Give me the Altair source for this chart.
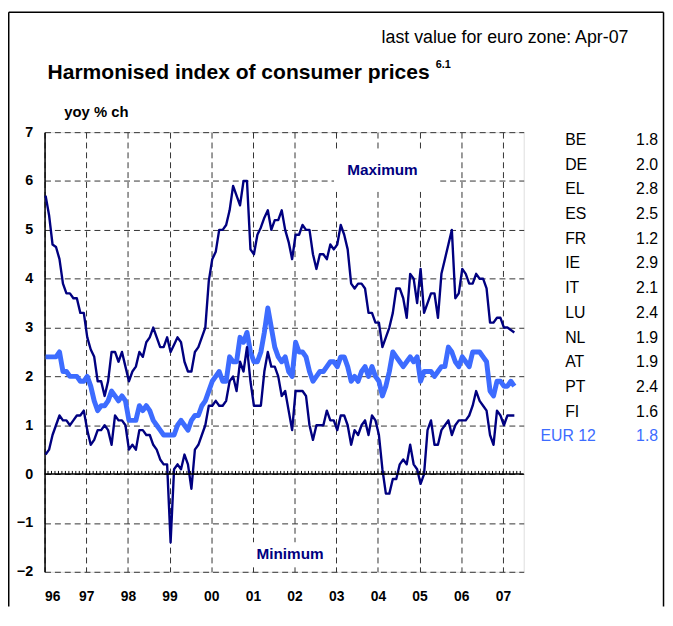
import altair as alt
import pandas as pd

FONT = "Liberation Sans"
NAVY = "#000080"
BLUE = "#3d6cff"

years = ["96", "97", "98", "99", "00", "01", "02", "03", "04", "05", "06", "07"]

maximum = [5.7, 5.3, 4.7, 4.65, 4.4, 3.9, 3.7, 3.7, 3.6, 3.6, 3.3, 3.3,
           2.8, 2.55, 2.4, 1.9, 1.9, 1.6, 1.9, 2.5, 2.5, 2.3, 2.5, 2.2,
           1.9, 2.1, 2.2, 2.5, 2.4, 2.7, 2.8, 3.0, 2.8, 2.6, 2.6, 2.8,
           2.5, 2.65, 2.8, 2.7, 2.3, 2.1, 2.1, 2.5, 2.6, 2.8, 3.0, 3.95,
           4.4, 4.55, 5.0, 5.0, 5.1, 5.4, 5.9, 5.7, 5.5, 6.0, 6.0, 4.6,
           4.5, 4.9, 5.05, 5.25, 5.4, 5.0, 5.2, 5.2, 5.4, 5.0, 4.75, 4.4,
           4.9, 4.9, 5.1, 5.0, 5.0, 4.5, 4.2, 4.5, 4.5, 4.4, 4.7, 4.6,
           4.7, 5.1, 4.9, 4.6, 3.9, 3.8, 3.9, 3.9, 3.8, 3.3, 3.3, 3.1,
           3.1, 2.6, 2.8, 3.0, 3.3, 3.8, 3.8, 3.6, 3.2, 4.1, 4.0, 3.5,
           4.2, 3.3, 3.5, 3.7, 3.7, 3.2, 4.1, 4.4, 4.7, 5.0, 3.6, 3.7,
           4.2, 4.1, 3.9, 3.9, 4.1, 4.0, 4.0, 3.8, 3.1, 3.1, 3.2, 3.2,
           3.0, 3.0, 2.95, 2.9]

minimum = [0.4, 0.5, 0.8, 1.0, 1.2, 1.1, 1.1, 1.0, 1.1, 1.2, 1.2, 1.3,
           0.9, 0.6, 0.7, 0.9, 0.9, 1.0, 0.9, 0.6, 1.2, 1.1, 1.1, 1.0,
           0.5, 0.6, 0.5, 0.9, 0.9, 0.8, 0.8, 0.6, 0.5, 0.3, 0.2, 0.2,
           -1.4, 0.1, 0.2, 0.1, 0.4, 0.2, -0.3, 0.5, 0.6, 0.8, 1.0, 1.4,
           1.4, 1.5, 1.4, 1.4, 1.5, 1.9, 2.0, 1.7, 2.3, 2.1, 2.6, 1.9,
           1.4, 1.4, 1.4, 2.1, 2.5, 2.2, 2.2, 2.0, 1.6, 1.7, 1.3, 0.9,
           1.7, 1.7, 1.7, 1.6, 1.0, 0.7, 1.0, 1.0, 1.0, 1.3, 1.1, 1.1,
           0.9, 1.2, 1.2, 1.0, 0.6, 0.9, 0.8, 1.0, 1.1, 0.8, 1.2, 1.1,
           0.8, 0.1, -0.4, -0.4, -0.1, -0.1, 0.2, 0.3, 0.2, 0.6, 0.2, 0.1,
           -0.2, 0.0, 0.9, 1.1, 0.6, 0.6, 0.9, 1.0, 1.1, 0.8, 1.0, 1.1,
           1.1, 1.1, 1.2, 1.4, 1.7, 1.5, 1.4, 1.3, 0.8, 0.6, 1.3, 1.2,
           1.0, 1.2, 1.2, 1.2]

eur12 = [2.4, 2.4, 2.4, 2.4, 2.5, 2.1, 2.1, 2.0, 2.0, 2.0, 1.9, 1.9,
         2.0, 1.8, 1.5, 1.3, 1.4, 1.4, 1.5, 1.7, 1.6, 1.5, 1.6, 1.5,
         1.1, 1.1, 1.1, 1.4, 1.3, 1.4, 1.3, 1.1, 1.0, 0.9, 0.8, 0.8,
         0.8, 0.8, 1.0, 1.1, 1.0, 0.9, 1.1, 1.2, 1.2, 1.4, 1.5, 1.7,
         1.9, 2.0, 2.1, 1.9, 1.9, 2.4, 2.3, 2.3, 2.8, 2.7, 2.9, 2.5,
         2.3, 2.3, 2.5, 2.9, 3.4, 3.0, 2.6, 2.4, 2.3, 2.4, 2.1, 2.0,
         2.7, 2.5, 2.5, 2.4, 2.1, 1.9, 2.0, 2.1, 2.1, 2.2, 2.3, 2.3,
         2.2, 2.4, 2.4, 2.2, 1.9, 2.0, 1.9, 2.1, 2.2, 2.0, 2.2, 2.0,
         1.9, 1.6, 1.8, 2.1, 2.5, 2.4, 2.3, 2.2, 2.3, 2.4, 2.3, 2.4,
         1.9, 2.1, 2.1, 2.1, 2.0, 2.1, 2.2, 2.2, 2.6, 2.5, 2.3, 2.2,
         2.4, 2.3, 2.2, 2.5, 2.5, 2.5, 2.4, 2.3, 1.7, 1.6, 1.9, 1.9,
         1.8, 1.8, 1.9, 1.8]

countries = ["BE", "DE", "EL", "ES", "FR", "IE", "IT", "LU", "NL", "AT", "PT", "FI", "EUR 12"]
last_values = ["1.8", "2.0", "2.8", "2.5", "1.2", "2.9", "2.1", "2.4", "1.9", "1.9", "2.4", "1.6", "1.8"]

# ---------------------------------------------------------------- tables
n = len(eur12)
df = pd.DataFrame({
    "t": [i + 0.3 for i in range(n)],
    "max": maximum,
    "min": minimum,
    "eur": eur12,
})
months = pd.DataFrame({"m": list(range(1, 138))})
zero = pd.DataFrame({"z": [0]})
one = pd.DataFrame({"a": [0]})
table = pd.DataFrame({"country": countries, "value": last_values})

xs = alt.Scale(domain=[0, 138], nice=False, zero=False)
ys = alt.Scale(domain=[-2, 7], nice=False, zero=False)

label_expr = "[" + ",".join("'%s'" % y for y in years) + "][round(datum.value/12)]"

x_axis = alt.Axis(values=[12 * i for i in range(len(years))], labelExpr=label_expr,
                  grid=True, gridDash=[6, 4], gridColor="#333333", gridWidth=1,
                  domain=False, ticks=False, tickSize=0, labelAngle=0,
                  labelFont=FONT, labelFontSize=14, labelFontWeight="bold",
                  labelColor="black", labelPadding=18, title=None)
y_axis = alt.Axis(values=list(range(-2, 8)), format="d",
                  grid=True, gridDash=[6, 4], gridColor="#333333", gridWidth=1,
                  domain=True, domainColor="black", domainWidth=1.5,
                  ticks=False, tickSize=0,
                  labelFont=FONT, labelFontSize=14.5, labelFontWeight="bold",
                  labelColor="black", labelPadding=12, title=None)


def X(field):
    return alt.X(field, scale=xs, axis=x_axis)


def Y(field):
    return alt.Y(field, scale=ys, axis=y_axis)


eur_line = alt.Chart(df).mark_line(color=BLUE, strokeWidth=5, strokeJoin="round").encode(
    x=X("t:Q"), y=Y("eur:Q"))
max_line = alt.Chart(df).mark_line(color=NAVY, strokeWidth=2.4, strokeJoin="round").encode(
    x=X("t:Q"), y=Y("max:Q"))
min_line = alt.Chart(df).mark_line(color=NAVY, strokeWidth=2.4, strokeJoin="round").encode(
    x=X("t:Q"), y=Y("min:Q"))

zero_line = alt.Chart(zero).mark_rule(color="black", strokeWidth=1.5).encode(y=Y("z:Q"))
month_ticks = alt.Chart(months).transform_calculate(lo="0", hi="0.065").mark_rule(
    color="black", strokeWidth=1).encode(x=X("m:Q"), y=Y("lo:Q"), y2="hi:Q")


def text(txt, x, y, size, weight="normal", color="black", align="left"):
    return alt.Chart(one).mark_text(text=txt, font=FONT, fontSize=size, fontWeight=weight,
                                    color=color, align=align, baseline="middle").encode(
        x=alt.value(x), y=alt.value(y))


def box(x1, x2, y1, y2):
    return alt.Chart(one).mark_rect(color="white").encode(
        x=alt.value(x1), x2=alt.value(x2), y=alt.value(y1), y2=alt.value(y2))


def rule(x1, x2, y1, y2):
    return alt.Chart(one).mark_rule(color="black", strokeWidth=1.5).encode(
        x=alt.value(x1), x2=alt.value(x2), y=alt.value(y1), y2=alt.value(y2))


main = alt.layer(
    eur_line, max_line, min_line, zero_line, month_ticks,
    box(293, 399, 20, 58), text("Maximum", 342, 38, 15.5, "bold", NAVY, "center"),
    box(207, 290, 415, 438), text("Minimum", 248.5, 427, 15.5, "bold", NAVY, "center"),
    text("last value for euro zone: Apr-07", 591, -95, 18, align="right"),
    text("Harmonised index of consumer prices", 3, -60, 21.3, "bold"),
    text("6.1", 396, -68, 11, "bold"),
    text("yoy % ch", 20, -20, 15, "bold"),
    rule(-36.25, -36.25, -121.25, 480),
    rule(-36.25, 626.5, -121.25, -121.25),
    rule(626.5, 626.5, -121.25, 480),
)

row_y = alt.Y("country:N", scale=alt.Scale(type="point", domain=countries, range=[8, 308], padding=0),
              axis=None)
is_eur = alt.datum.country == "EUR 12"

tbl_names = alt.Chart(table).transform_filter(~is_eur).mark_text(
    font=FONT, fontSize=16, align="left", baseline="middle", color="black").encode(
    x=alt.value(527), y=row_y, text="country:N")
tbl_vals = alt.Chart(table).transform_filter(~is_eur).mark_text(
    font=FONT, fontSize=16, align="right", baseline="middle", color="black").encode(
    x=alt.value(621), y=row_y, text="value:N")
eur_name = alt.Chart(table).transform_filter(is_eur).mark_text(
    font=FONT, fontSize=16, align="left", baseline="middle", color=BLUE).encode(
    x=alt.value(502), y=row_y, text="country:N")
eur_val = alt.Chart(table).transform_filter(is_eur).mark_text(
    font=FONT, fontSize=16, align="right", baseline="middle", color=BLUE).encode(
    x=alt.value(621), y=row_y, text="value:N")

side = alt.layer(tbl_names, tbl_vals, eur_name, eur_val)

chart = alt.layer(main, side).resolve_scale(y="independent").properties(
    width=485, height=445,
    padding={"left": 37, "top": 122, "right": 143, "bottom": 35},
    autosize=alt.AutoSizeParams(type="none"),
).configure_view(stroke=None).configure(background="white")

chart.save("out.html", embed_options={"renderer": "svg", "actions": False})
